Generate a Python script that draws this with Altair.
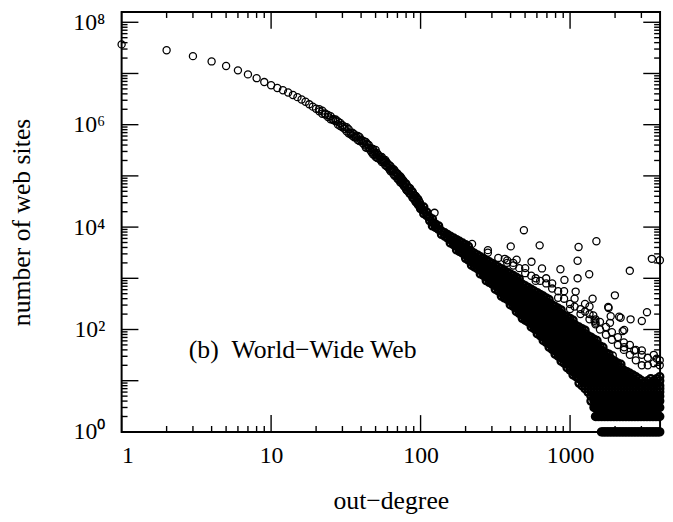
import altair as alt
import pandas as pd

FONT = "Liberation Serif"
W, H = 545, 425

# ---- data: out-degree k  vs  number of web sites n ----
head_k = [1, 2, 3, 4, 5, 6, 7, 8, 9, 10, 11, 12, 13, 14, 15, 16, 17, 18, 19, 20]
head_n = [3.7e7, 2.84e7, 2.18e7, 1.72e7, 1.4e7, 1.15e7, 9.6e6, 8.1e6, 6.8e6, 5.9e6,
          5.2e6, 4.7e6, 4.25e6, 3.8e6, 3.45e6, 3.1e6, 2.8e6, 2.5e6, 2.25e6, 2.05e6]

band_k = [21, 22, 23, 24, 25, 26, 27, 28, 29, 30, 31, 32, 33, 34, 35, 36, 37, 38, 39, 40,
          41, 42, 43, 44, 45, 46, 47, 48, 49, 50, 51, 52, 53, 54, 55, 56, 57, 58, 59, 60,
          61, 62, 63, 64, 65, 66, 67, 68, 69, 70, 71, 72, 73, 74, 75, 76, 77, 78, 79, 80,
          81, 82, 83, 84, 85, 86, 87, 88, 89, 90, 91, 92, 93, 94, 95, 96, 97, 98, 99]
band_n = [2.0e6, 1.64e6, 1.66e6, 1.41e6, 1.46e6, 1.23e6, 1.17e6, 1.01e6, 1.08e6, 8.9e5,
          9.1e5, 7.4e5, 8.2e5, 7.0e5, 6.1e5, 6.5e5, 5.6e5, 6.0e5, 4.8e5, 5.1e5,
          4.4e5, 4.7e5, 3.6e5, 4.2e5, 3.55e5, 3.45e5, 2.9e5, 3.35e5, 2.6e5, 2.7e5,
          2.25e5, 2.6e5, 2.2e5, 2.35e5, 1.86e5, 2.1e5, 1.82e5, 2.05e5, 1.57e5, 1.74e5,
          1.45e5, 1.6e5, 1.23e5, 1.38e5, 1.25e5, 1.35e5, 1.01e5, 1.16e5, 9.9e4, 1.11e5,
          8.6e4, 9.4e4, 7.5e4, 9.3e4, 7.6e4, 8.3e4, 6.4e4, 7.2e4, 6.0e4, 7.1e4,
          5.2e4, 5.9e4, 5.1e4, 5.8e4, 4.4e4, 5.1e4, 4.3e4, 5.0e4, 3.7e4, 4.2e4,
          3.6e4, 4.1e4, 3.05e4, 3.7e4, 3.0e4, 3.6e4, 2.7e4, 3.1e4, 2.5e4]
# second reading of the same stretch (the band is two circles thick)
band2_n = [1.82e6, 1.88e6, 1.58e6, 1.55e6, 1.27e6, 1.29e6, 1.26e6, 1.16e6, 9.4e5, 9.8e5,
           8.3e5, 8.9e5, 6.8e5, 6.5e5, 7.0e5, 5.7e5, 5.9e5, 5.0e5, 5.75e5, 4.85e5,
           4.85e5, 4.1e5, 4.6e5, 3.5e5, 4.0e5, 3.2e5, 3.45e5, 2.65e5, 3.0e5, 2.35e5,
           2.8e5, 2.2e5, 2.4e5, 2.05e5, 2.35e5, 1.93e5, 2.0e5, 1.62e5, 1.88e5, 1.51e5,
           1.66e5, 1.33e5, 1.55e5, 1.26e5, 1.35e5, 1.07e5, 1.27e5, 1.01e5, 1.12e5, 8.8e4,
           1.03e5, 8.3e4, 9.9e4, 7.4e4, 8.7e4, 6.9e4, 8.0e4, 6.2e4, 7.1e4, 5.4e4,
           6.6e4, 5.1e4, 5.9e4, 4.6e4, 5.75e4, 4.4e4, 5.0e4, 3.8e4, 4.7e4, 3.6e4,
           4.2e4, 3.2e4, 4.0e4, 3.1e4, 3.55e4, 2.7e4, 3.4e4, 2.6e4, 3.0e4]

# dense cloud: one out-degree per column, the counts seen in that column
mass_k = [100, 105, 110, 115, 120, 126, 132, 138, 145, 151, 158, 166, 174, 182, 191, 200,
          209, 219, 229, 240, 251, 263, 275, 288, 302, 316, 331, 347, 363, 380, 398, 417,
          437, 457, 479, 501, 525, 550, 575, 603, 631, 661, 692, 724, 759, 794, 832, 871,
          912, 955, 1000, 1047, 1096, 1148, 1202, 1259, 1318, 1380, 1445, 1514, 1585, 1660,
          1738, 1820, 1905, 1995, 2089, 2188, 2291, 2399, 2512, 2630, 2754, 2884, 3020, 3162,
          3311, 3467, 3631, 3802, 3981]
mass_n = [
    [22800, 26600], [18200, 21200, 24700], [16800, 19600], [13400, 15600],
    [10560, 12300, 14400], [9800, 11400], [9050, 10560], [7200, 8400], [6650, 7760],
    [6170, 7200], [4890, 5700, 6650], [4540, 5300, 6170], [3590, 4190, 4890, 5700],
    [3330, 3890, 4540, 5300], [3080, 3590, 4190, 4890], [2450, 2860, 3330, 3890, 4540],
    [2260, 2640, 3080, 3590, 4190], [1800, 2100, 2450, 2860, 3330],
    [1660, 1940, 2260, 2640, 3080], [1540, 1800, 2100, 2450, 2860],
    [1220, 1420, 1660, 1940, 2260, 2640], [1135, 1320, 1540, 1800, 2100, 2450],
    [900, 1050, 1220, 1420, 1660, 1940, 2260], [835, 975, 1135, 1320, 1540, 1800, 2100],
    [770, 900, 1050, 1220, 1420, 1660, 1940], [612, 715, 835, 975, 1135, 1320, 1540, 1800],
    [565, 660, 770, 900, 1050, 1220, 1420, 1660],
    [450, 525, 612, 715, 835, 975, 1135, 1320, 1540],
    [415, 485, 565, 660, 770, 900, 1050, 1220, 1420],
    [385, 450, 525, 612, 715, 835, 975, 1135, 1320],
    [305, 355, 415, 485, 565, 660, 770, 900, 1050, 1220],
    [282, 330, 385, 450, 525, 612, 715, 835, 975, 1135],
    [225, 260, 305, 355, 415, 485, 565, 660, 770, 900, 1050],
    [207, 242, 282, 330, 385, 450, 525, 612, 715, 835, 975],
    [165, 190, 225, 260, 305, 355, 415, 485, 565, 660, 770],
    [152, 177, 207, 242, 282, 330, 385, 450, 525, 612, 715],
    [140, 165, 190, 225, 260, 305, 355, 415, 485, 565, 660],
    [112, 130, 152, 177, 207, 242, 282, 330, 385, 450, 525, 612],
    [104, 120, 140, 165, 190, 225, 260, 305, 355, 415, 485, 565],
    [83, 97, 112, 130, 152, 177, 207, 242, 282, 330, 385, 450, 525],
    [76, 89, 104, 120, 140, 165, 190, 225, 260, 305, 355, 415, 485],
    [61, 71, 83, 97, 112, 130, 152, 177, 207, 242, 282, 330, 385, 450],
    [56, 65, 76, 89, 104, 120, 140, 165, 190, 225, 260, 305, 355, 415],
    [45, 52, 61, 71, 83, 97, 112, 130, 152, 177, 207, 242, 282, 330, 385],
    [41, 48, 56, 65, 76, 89, 104, 120, 140, 165, 190, 225, 260, 305],
    [33, 38, 45, 52, 61, 71, 83, 97, 112, 130, 152, 177, 207, 242, 282],
    [30, 35, 41, 48, 56, 65, 76, 89, 104, 120, 140, 165, 190, 225, 260],
    [24, 28, 33, 38, 45, 52, 61, 71, 83, 97, 112, 130, 152, 177, 207, 242],
    [22, 26, 30, 35, 41, 48, 56, 65, 76, 89, 104, 120, 140, 165, 190],
    [18, 21, 24, 28, 33, 38, 45, 52, 61, 71, 83, 97, 112, 130, 152, 177],
    [16, 19, 22, 26, 30, 35, 41, 48, 56, 65, 76, 89, 104, 120, 140, 165],
    [13, 15, 18, 21, 24, 28, 33, 38, 45, 52, 61, 71, 83, 97, 112, 130, 152],
    [12, 14, 16, 19, 22, 26, 30, 35, 41, 48, 56, 65, 76, 89, 104, 120],
    [9, 11, 13, 15, 18, 21, 24, 28, 33, 38, 45, 52, 61, 71, 83, 97, 112],
    [8, 10, 12, 14, 16, 19, 22, 26, 30, 35, 41, 48, 56, 65, 76, 89, 104],
    [7, 9, 11, 13, 15, 18, 21, 24, 28, 33, 38, 45, 52, 61, 71, 83, 97],
    [6, 7, 8, 10, 12, 14, 16, 19, 22, 26, 30, 35, 41, 48, 56, 65, 76],
    [4, 5, 6, 7, 9, 11, 13, 15, 18, 21, 24, 28, 33, 38, 45, 52, 61, 71],
    [3, 4, 5, 6, 7, 8, 10, 12, 14, 16, 19, 22, 26, 30, 35, 41, 48, 56, 65],
    [2, 3, 4, 5, 6, 7, 9, 11, 13, 15, 18, 21, 24, 28, 33, 38, 45, 52, 61],
    [2, 3, 4, 5, 6, 7, 8, 10, 12, 14, 16, 19, 22, 26, 30, 35, 41, 48],
    [1, 2, 3, 4, 5, 6, 7, 9, 11, 13, 15, 18, 21, 24, 28, 33, 38, 45],
    [1, 2, 3, 4, 5, 6, 7, 8, 10, 12, 14, 16, 19, 22, 26, 30, 35],
    [1, 2, 3, 4, 5, 6, 7, 9, 11, 13, 15, 18, 21, 24, 28, 33],
    [1, 2, 3, 4, 5, 6, 7, 8, 10, 12, 14, 16, 19, 22, 26],
    [1, 2, 3, 4, 5, 6, 7, 9, 11, 13, 15, 18, 21, 24],
    [1, 2, 3, 4, 5, 6, 7, 8, 10, 12, 14, 16, 19, 22],
    [1, 2, 3, 4, 5, 6, 7, 9, 11, 13, 15, 18, 21],
    [1, 2, 3, 4, 5, 6, 7, 8, 10, 12, 14, 16],
    [1, 2, 3, 4, 5, 6, 7, 9, 11, 13, 15],
    [1, 2, 3, 4, 5, 6, 7, 8, 10, 12, 14],
    [1, 2, 3, 4, 5, 6, 7, 9, 11, 13],
    [1, 2, 3, 4, 5, 6, 7, 8, 10, 12],
    [1, 2, 3, 4, 5, 6, 7, 9, 11],
    [1, 2, 3, 4, 5, 6, 7, 8, 10],
    [1, 2, 3, 4, 5, 6, 7, 9],
    [1, 2, 3, 4, 5, 6, 7, 8, 10],
    [1, 2, 3, 4, 5, 6, 7, 9, 11],
    [1, 2, 3, 4, 5, 6, 7, 8, 10],
    [1, 2, 3, 4, 5, 6, 7, 9, 11],
    [1, 2, 3, 4, 5, 6, 7, 8, 10, 12],
]

# extra columns in the low-count rows of the tail
fill_k = [1479, 1549, 1622, 1698, 1778, 1862, 1950, 2042, 2138, 2239, 2344, 2455,
          2570, 2692, 2818, 2951, 3090, 3236, 3388, 3548, 3715, 3890]
fill_n = [[2, 3, 4, 5], [2, 3, 4, 5]] + [[1, 2, 3, 4, 5]] * 20

# scattered points just above the dense cloud
mid_k = [282, 282, 331, 380, 380, 417, 417, 457, 501, 501, 550, 589, 589, 631, 692, 692,
         759, 759, 832, 832, 912, 912, 1000, 1000, 1072, 1072, 1175, 1175, 1259, 1259,
         1349, 1349, 1349, 1479, 1479, 1585, 1585, 1738, 1738, 1905, 1905, 2089, 2089,
         2291, 2291, 2512, 2512, 2754, 2754, 3020, 3020, 3311, 3311, 3631, 3631, 3981, 3981]
mid_n = [3550, 3160, 2500, 2240, 2000, 2000, 1780, 1580, 1260, 1580, 1120, 1000, 890, 890,
         795, 1000, 630, 795, 560, 417, 400, 560, 316, 251, 280, 400, 250, 200, 224, 316,
         158, 200, 282, 126, 158, 100, 141, 79, 112, 63, 89, 50, 71, 40, 56, 32, 50, 25,
         40, 20, 32, 20, 28, 22, 32, 25, 20]

# isolated outliers
out_k = [50, 124, 221, 366, 401, 439, 491, 552, 626, 649, 862, 917, 1090, 1123, 1123,
         1140, 1343, 1415, 1430, 1460, 1480, 1500, 1800, 1810, 1850, 1870, 1930, 1995,
         2130, 2180, 2250, 2300, 2300, 2540, 2510, 2690, 3020, 3020, 3270, 3524, 3800, 3990]
out_n = [320000, 19000, 4700, 2400, 4200, 2300, 8700, 2100, 4400, 1560, 1500, 930, 550,
         2200, 1000, 4100, 1200, 400, 188, 148, 136, 5300, 276, 263, 135, 182, 31, 465,
         178, 170, 93, 98, 45, 158, 1400, 39, 147, 39, 218, 2400, 27, 2250]

# axis ticks / labels
x_label_vals = [1, 10, 100, 1000]
x_minor = [2, 3, 4, 5, 6, 7, 8, 9, 20, 30, 40, 50, 60, 70, 80, 90,
           200, 300, 400, 500, 600, 700, 800, 900, 2000, 3000]
y_label_vals = [1, 1e2, 1e4, 1e6, 1e8]
y_major = [1, 1e1, 1e2, 1e3, 1e4, 1e5, 1e6, 1e7, 1e8]
y_minor = [m * d for d in [1, 1e1, 1e2, 1e3, 1e4, 1e5, 1e6, 1e7] for m in [2, 3, 4, 5, 6, 7, 8, 9]]
panel_label = "(b)\u2002World\u2212Wide Web"
x_title = "out\u2212degree"
y_title = "number of web sites"

# ---- build tables ----
sk, sn = [], []
for k, n in zip(head_k, head_n):
    sk.append(k); sn.append(n)
for k, n in zip(band_k, band_n):
    sk.append(k); sn.append(n)
for k, n in zip(band_k, band2_n):
    sk.append(k); sn.append(n)
for k, n in zip(mid_k, mid_n):
    sk.append(k); sn.append(n)
for k, n in zip(out_k, out_n):
    sk.append(k); sn.append(n)
sparse = pd.DataFrame({"k": sk, "n": sn})

dk, dn = [], []
for k, col in zip(mass_k, mass_n):
    for n in col:
        dk.append(k); dn.append(n)
for k, col in zip(fill_k, fill_n):
    for n in col:
        dk.append(k); dn.append(n)
dense = pd.DataFrame({"k": dk, "n": dn})

xscale = alt.Scale(type="log", domain=[1, 4000], nice=False)
yscale = alt.Scale(type="log", domain=[1, 1.585e8], nice=False)

x_axis = alt.Axis(values=x_label_vals, labelExpr="format(datum.value, 'd')", ticks=False, tickSize=0,
                  domain=False, grid=False, labelFont=FONT, labelFontSize=24, labelColor="black",
                  labelPadding=12, labelOverlap=False, titleFont=FONT, titleFontSize=26,
                  titleFontWeight="normal", titleColor="black", titlePadding=21)
y_axis = alt.Axis(values=y_label_vals,
                  labelExpr="'10' + (datum.value < 10 ? '\u2070' : datum.value < 1000 ? '\u00b2' : datum.value < 1e5 ? '\u2074' : datum.value < 1e7 ? '\u2076' : '\u2078')",
                  ticks=False, tickSize=0, domain=False, grid=False, labelFont=FONT, labelFontSize=24,
                  labelColor="black", labelPadding=17, labelOverlap=False, titleFont=FONT,
                  titleFontSize=26, titleFontWeight="normal", titleColor="black", titlePadding=39)

def X(field):
    return alt.X(field, type="quantitative", scale=xscale, axis=x_axis, title=x_title)

def Y(field):
    return alt.Y(field, type="quantitative", scale=yscale, axis=y_axis, title=y_title)

pts_sparse = alt.Chart(sparse).mark_point(shape="circle", filled=False, size=52, strokeWidth=1.3,
                                          color="black", opacity=1, clip=False).encode(x=X("k"), y=Y("n"))
pts_dense = alt.Chart(dense).mark_point(shape="circle", filled=False, size=52, strokeWidth=2.3,
                                        color="black", opacity=1, clip=False).encode(x=X("k"), y=Y("n"))

def xticks(vals, length, top):
    d = pd.DataFrame({"v": vals})
    yy, yy2 = (0, length) if top else (H, H - length)
    return alt.Chart(d).mark_rule(color="black", strokeWidth=1.4).encode(
        x=X("v"), y=alt.value(yy), y2=alt.value(yy2))

def yticks(vals, length, right):
    d = pd.DataFrame({"v": vals})
    xx, xx2 = (W, W - length) if right else (0, length)
    return alt.Chart(d).mark_rule(color="black", strokeWidth=1.4).encode(
        y=Y("v"), x=alt.value(xx), x2=alt.value(xx2))

label = alt.Chart(pd.DataFrame({"t": [panel_label]})).mark_text(
    align="left", baseline="alphabetic", font=FONT, fontSize=26, color="black").encode(
    x=alt.value(68), y=alt.value(350), text="t:N")

chart = alt.layer(
    pts_dense, pts_sparse,
    xticks(x_label_vals, 17, False), xticks(x_minor, 6, False),
    xticks(x_label_vals, 17, True), xticks(x_minor, 6, True),
    yticks(y_major, 17, False), yticks(y_minor, 6, False),
    yticks(y_major, 17, True), yticks(y_minor, 6, True),
    label,
).properties(
    width=W, height=H,
    autosize=alt.AutoSizeParams(type="none"),
    padding={"left": 115, "top": 1, "right": 5, "bottom": 80},
    background="white",
).configure_view(stroke="black", strokeWidth=2)

chart.save("out.html", embed_options={"renderer": "svg", "actions": False})
